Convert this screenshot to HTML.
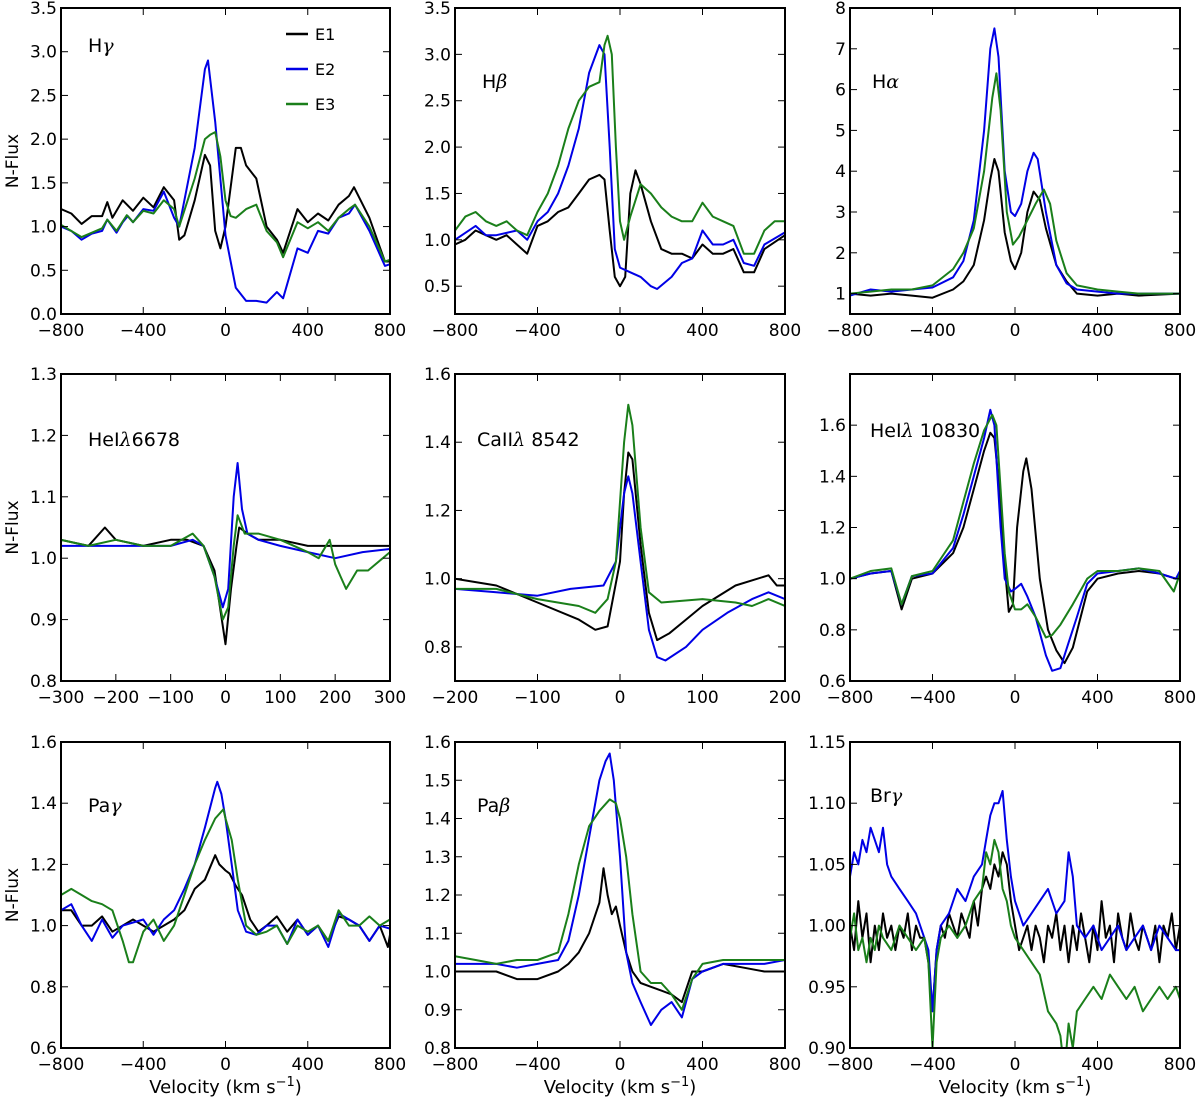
<!DOCTYPE html>
<html><head><meta charset="utf-8">
<style>
html,body{margin:0;padding:0;background:#fff;}
svg{display:block;font-family:"DejaVu Sans","Liberation Sans",sans-serif;}
</style></head>
<body>
<svg id="fig" width="1200" height="1106" viewBox="0 0 1200 1106" xmlns="http://www.w3.org/2000/svg"></svg>
<script>
// ---- data: [velocity, normalized flux] ----
const hgE1=[[-800,1.2],[-750,1.15],[-700,1.03],[-650,1.12],[-600,1.12],[-575,1.28],[-550,1.1],[-500,1.3],[-450,1.18],[-400,1.33],[-350,1.22],[-300,1.45],[-250,1.3],[-225,0.85],[-200,0.9],[-150,1.3],[-100,1.82],[-75,1.7],[-50,0.95],[-25,0.75],[0,1.0],[50,1.9],[75,1.9],[100,1.7],[150,1.55],[200,1.0],[250,0.85],[280,0.7],[350,1.2],[400,1.05],[450,1.15],[500,1.07],[550,1.25],[600,1.35],[625,1.45],[700,1.1],[775,0.6],[800,0.6]];
const hgE2=[[-800,1.0],[-750,0.95],[-700,0.85],[-650,0.92],[-600,0.95],[-575,1.08],[-530,0.93],[-500,1.05],[-475,1.12],[-450,1.05],[-400,1.2],[-350,1.18],[-300,1.4],[-250,1.1],[-225,1.0],[-150,1.9],[-100,2.8],[-85,2.9],[-50,2.2],[0,0.9],[50,0.3],[100,0.15],[150,0.15],[200,0.13],[250,0.25],[280,0.18],[350,0.75],[400,0.7],[450,0.95],[500,0.92],[550,1.1],[600,1.15],[630,1.25],[700,0.95],[775,0.55],[800,0.57]];
const hgE3=[[-800,1.02],[-700,0.88],[-600,0.98],[-575,1.08],[-530,0.95],[-480,1.13],[-450,1.05],[-400,1.18],[-350,1.15],[-300,1.3],[-250,1.2],[-225,1.0],[-150,1.55],[-100,2.0],[-75,2.05],[-50,2.08],[-25,1.8],[0,1.3],[25,1.12],[50,1.1],[100,1.2],[150,1.25],[200,0.95],[250,0.82],[280,0.65],[350,1.05],[400,0.98],[450,1.05],[500,0.95],[550,1.1],[600,1.2],[630,1.25],[700,1.0],[775,0.6],[800,0.62]];

const hbE1=[[-800,0.95],[-750,1.0],[-700,1.1],[-650,1.05],[-600,1.0],[-550,1.05],[-500,0.95],[-450,0.85],[-400,1.15],[-350,1.2],[-300,1.3],[-250,1.35],[-200,1.5],[-150,1.65],[-100,1.7],[-75,1.65],[-50,1.1],[-25,0.6],[0,0.5],[25,0.6],[50,1.5],[75,1.75],[100,1.6],[150,1.2],[200,0.9],[250,0.85],[300,0.85],[350,0.8],[400,0.95],[450,0.85],[500,0.85],[550,0.9],[600,0.65],[650,0.65],[700,0.9],[800,1.05]];
const hbE2=[[-800,1.0],[-700,1.15],[-650,1.05],[-600,1.05],[-500,1.1],[-450,1.0],[-400,1.2],[-350,1.3],[-300,1.5],[-250,1.8],[-200,2.2],[-150,2.8],[-100,3.1],[-75,3.0],[-50,2.0],[-25,0.9],[0,0.7],[50,0.65],[100,0.6],[150,0.5],[180,0.47],[250,0.6],[300,0.75],[350,0.8],[400,1.1],[450,0.95],[500,0.95],[550,1.0],[600,0.75],[650,0.72],[700,0.95],[800,1.08]];
const hbE3=[[-800,1.1],[-750,1.25],[-700,1.3],[-650,1.2],[-600,1.15],[-550,1.2],[-500,1.1],[-450,1.05],[-400,1.3],[-350,1.5],[-300,1.8],[-250,2.2],[-200,2.5],[-150,2.65],[-100,2.7],[-75,3.1],[-60,3.2],[-40,3.0],[-20,2.0],[0,1.2],[20,1.0],[50,1.25],[100,1.6],[150,1.5],[200,1.35],[250,1.25],[300,1.2],[350,1.2],[400,1.4],[450,1.25],[500,1.2],[550,1.15],[600,0.85],[650,0.85],[700,1.1],[750,1.2],[800,1.2]];

const haE1=[[-800,1.0],[-700,0.95],[-600,1.0],[-500,0.95],[-400,0.9],[-300,1.1],[-250,1.3],[-200,1.7],[-150,2.8],[-120,3.8],[-100,4.3],[-80,4.0],[-50,2.5],[-20,1.8],[0,1.6],[30,2.0],[60,3.0],[90,3.5],[120,3.3],[150,2.6],[200,1.7],[250,1.3],[300,1.0],[400,0.95],[500,1.0],[600,0.95],[800,1.0]];
const haE2=[[-800,0.95],[-700,1.1],[-600,1.05],[-500,1.1],[-400,1.15],[-300,1.4],[-250,1.8],[-200,2.8],[-150,5.0],[-120,7.0],[-100,7.5],[-80,6.8],[-50,4.0],[-20,3.0],[0,2.9],[30,3.2],[60,4.0],[90,4.45],[110,4.3],[150,3.0],[200,1.7],[250,1.25],[300,1.1],[400,1.05],[500,1.0],[600,1.0],[800,1.0]];
const haE3=[[-800,1.0],[-700,1.05],[-600,1.1],[-500,1.1],[-400,1.2],[-300,1.6],[-250,2.0],[-200,2.6],[-150,4.0],[-110,5.8],[-90,6.4],[-70,5.5],[-40,3.0],[-10,2.2],[20,2.4],[60,2.8],[100,3.2],[140,3.55],[170,3.2],[200,2.3],[250,1.5],[300,1.2],[400,1.1],[500,1.05],[600,1.0],[800,1.0]];

const he6E1=[[-300,1.03],[-250,1.02],[-220,1.05],[-200,1.03],[-150,1.02],[-100,1.03],[-70,1.03],[-40,1.02],[-20,0.98],[-10,0.92],[0,0.86],[10,0.95],[20,1.02],[25,1.05],[40,1.04],[60,1.03],[100,1.03],[150,1.02],[200,1.02],[250,1.02],[300,1.02]];
const he6E2=[[-300,1.02],[-200,1.02],[-150,1.02],[-100,1.02],[-60,1.03],[-40,1.02],[-20,0.97],[-5,0.92],[5,0.95],[15,1.1],[22,1.155],[30,1.08],[40,1.04],[60,1.03],[100,1.02],[150,1.01],[200,1.0],[250,1.01],[300,1.015]];
const he6E3=[[-300,1.03],[-250,1.02],[-200,1.03],[-150,1.02],[-100,1.02],[-60,1.04],[-40,1.02],[-20,0.97],[-5,0.9],[5,0.92],[15,1.02],[22,1.07],[35,1.04],[60,1.04],[100,1.03],[150,1.01],[170,1.0],[190,1.03],[200,0.99],[210,0.97],[220,0.95],[240,0.98],[260,0.98],[300,1.01]];

const caE1=[[-200,1.0],[-150,0.98],[-100,0.93],[-50,0.88],[-30,0.85],[-15,0.86],[0,1.05],[5,1.25],[10,1.37],[15,1.35],[25,1.1],[35,0.9],[45,0.82],[60,0.84],[80,0.88],[100,0.92],[140,0.98],[180,1.01],[190,0.98],[200,0.98]];
const caE2=[[-200,0.97],[-150,0.96],[-100,0.95],[-60,0.97],[-20,0.98],[-5,1.05],[5,1.25],[10,1.3],[15,1.25],[25,1.05],[35,0.85],[45,0.77],[55,0.76],[80,0.8],[100,0.85],[130,0.9],[160,0.94],[180,0.96],[200,0.94]];
const caE3=[[-200,0.97],[-150,0.97],[-100,0.94],[-50,0.92],[-30,0.9],[-15,0.94],[-5,1.05],[5,1.4],[10,1.51],[15,1.45],[25,1.15],[35,0.96],[50,0.93],[100,0.94],[140,0.93],[160,0.92],[180,0.94],[200,0.92]];

const he10E1=[[-800,1.0],[-700,1.02],[-600,1.03],[-550,0.88],[-500,1.0],[-400,1.02],[-300,1.1],[-250,1.2],[-200,1.35],[-150,1.5],[-120,1.57],[-100,1.55],[-70,1.3],[-50,1.05],[-30,0.87],[-10,0.9],[10,1.2],[40,1.42],[55,1.47],[80,1.35],[120,1.0],[160,0.8],[200,0.72],[240,0.67],[280,0.73],[350,0.95],[400,1.0],[500,1.02],[600,1.03],[700,1.02],[780,1.0],[800,1.02]];
const he10E2=[[-800,1.0],[-700,1.02],[-600,1.03],[-550,0.9],[-500,1.01],[-400,1.02],[-300,1.12],[-250,1.25],[-200,1.4],[-150,1.55],[-120,1.66],[-100,1.6],[-70,1.2],[-50,1.0],[-20,0.95],[0,0.96],[30,0.98],[60,0.93],[100,0.85],[150,0.7],[180,0.64],[220,0.65],[260,0.75],[300,0.85],[350,0.98],[400,1.02],[500,1.03],[600,1.04],[700,1.02],[780,1.0],[800,1.03]];
const he10E3=[[-800,1.0],[-700,1.03],[-600,1.04],[-550,0.9],[-500,1.01],[-400,1.03],[-300,1.15],[-250,1.3],[-200,1.45],[-150,1.58],[-110,1.64],[-90,1.6],[-70,1.35],[-50,1.1],[-30,0.95],[0,0.88],[30,0.88],[60,0.9],[100,0.85],[150,0.77],[180,0.78],[220,0.82],[280,0.9],[350,1.0],[400,1.03],[500,1.03],[600,1.04],[700,1.03],[770,0.95],[800,1.02]];

const pgE1=[[-800,1.05],[-750,1.05],[-700,1.0],[-650,1.0],[-600,1.03],[-550,0.98],[-500,1.0],[-450,1.02],[-400,1.0],[-350,0.98],[-300,1.0],[-250,1.02],[-200,1.05],[-150,1.12],[-100,1.15],[-50,1.23],[-30,1.2],[0,1.18],[20,1.17],[50,1.13],[80,1.1],[120,1.02],[160,0.98],[200,1.0],[250,1.03],[300,0.98],[350,1.02],[400,0.97],[450,1.0],[500,0.95],[550,1.03],[600,1.02],[650,1.0],[700,0.95],[750,1.0],[790,0.93],[800,0.97]];
const pgE2=[[-800,1.05],[-750,1.07],[-700,1.0],[-650,0.95],[-600,1.02],[-550,0.96],[-500,1.0],[-400,1.02],[-350,0.97],[-300,1.02],[-250,1.05],[-200,1.12],[-150,1.2],[-100,1.32],[-50,1.45],[-40,1.47],[-20,1.43],[0,1.35],[30,1.2],[60,1.05],[100,0.98],[150,0.97],[200,1.0],[250,1.0],[300,0.94],[350,1.02],[400,0.97],[450,1.0],[500,0.93],[550,1.04],[600,1.02],[650,1.0],[700,0.95],[750,1.0],[800,0.99]];
const pgE3=[[-800,1.1],[-750,1.12],[-700,1.1],[-650,1.08],[-600,1.07],[-550,1.05],[-500,0.95],[-470,0.88],[-450,0.88],[-400,0.98],[-350,1.02],[-300,0.95],[-250,1.0],[-200,1.1],[-150,1.2],[-100,1.28],[-50,1.35],[-10,1.38],[0,1.35],[30,1.28],[60,1.15],[100,1.0],[150,0.97],[200,0.98],[250,1.0],[300,0.94],[350,1.0],[400,0.98],[450,1.0],[500,0.95],[550,1.05],[600,1.0],[650,1.0],[700,1.03],[750,1.0],[800,1.02]];

const pbE1=[[-800,1.0],[-700,1.0],[-600,1.0],[-500,0.98],[-400,0.98],[-300,1.0],[-250,1.02],[-200,1.05],[-150,1.1],[-100,1.18],[-80,1.27],[-60,1.2],[-40,1.15],[-20,1.17],[0,1.12],[30,1.05],[60,1.0],[100,0.97],[150,0.96],[200,0.95],[250,0.94],[300,0.92],[350,1.0],[400,1.0],[500,1.02],[600,1.01],[700,1.0],[800,1.0]];
const pbE2=[[-800,1.02],[-700,1.02],[-600,1.02],[-500,1.01],[-400,1.02],[-300,1.03],[-250,1.08],[-200,1.2],[-150,1.35],[-100,1.5],[-70,1.55],[-50,1.57],[-30,1.5],[0,1.3],[30,1.05],[60,0.97],[100,0.92],[150,0.86],[200,0.9],[250,0.92],[300,0.88],[350,0.98],[400,1.0],[500,1.02],[600,1.02],[700,1.02],[800,1.03]];
const pbE3=[[-800,1.04],[-700,1.03],[-600,1.02],[-500,1.03],[-400,1.03],[-300,1.05],[-250,1.15],[-200,1.28],[-150,1.38],[-100,1.42],[-50,1.45],[-20,1.44],[0,1.4],[30,1.3],[60,1.15],[100,1.0],[150,0.97],[200,0.97],[250,0.94],[300,0.9],[350,0.98],[400,1.02],[500,1.03],[600,1.03],[700,1.03],[800,1.03]];

const brE1=[[-800,1.0],[-780,0.98],[-760,1.02],[-740,0.99],[-720,1.01],[-700,0.97],[-680,1.0],[-660,0.98],[-640,1.01],[-620,0.99],[-600,1.0],[-580,0.98],[-560,1.0],[-540,0.99],[-520,1.01],[-500,0.98],[-480,1.0],[-460,0.99],[-440,0.99],[-420,0.97],[-400,0.93],[-380,0.98],[-360,1.0],[-340,0.99],[-320,1.01],[-300,1.0],[-280,0.99],[-260,1.01],[-240,1.0],[-220,0.99],[-200,1.02],[-180,1.0],[-160,1.03],[-140,1.04],[-120,1.03],[-100,1.05],[-80,1.04],[-60,1.06],[-40,1.05],[-20,1.02],[0,1.0],[20,0.98],[40,0.99],[60,1.0],[80,0.98],[100,1.0],[120,0.99],[140,0.97],[160,1.0],[180,0.99],[200,1.01],[220,0.98],[240,1.0],[260,0.97],[280,1.0],[300,0.98],[320,1.01],[340,0.99],[360,0.97],[380,1.0],[400,0.98],[420,1.02],[440,0.99],[460,1.0],[480,0.97],[500,1.01],[520,0.99],[540,0.98],[560,1.01],[580,0.99],[600,0.98],[620,1.0],[640,0.99],[660,0.98],[680,1.0],[700,0.97],[720,1.0],[740,0.99],[760,1.01],[780,0.98],[800,1.0]];
const brE2=[[-800,1.04],[-780,1.06],[-760,1.05],[-740,1.07],[-720,1.06],[-700,1.08],[-680,1.07],[-660,1.06],[-640,1.08],[-620,1.05],[-600,1.04],[-560,1.03],[-520,1.02],[-480,1.01],[-440,0.99],[-420,0.98],[-400,0.93],[-380,0.98],[-360,1.0],[-320,1.01],[-280,1.03],[-240,1.02],[-200,1.04],[-160,1.05],[-140,1.07],[-120,1.09],[-100,1.1],[-80,1.1],[-60,1.11],[-40,1.07],[-20,1.04],[0,1.02],[40,1.0],[80,1.01],[120,1.02],[160,1.03],[200,1.01],[240,1.02],[260,1.06],[280,1.04],[300,1.0],[340,0.99],[380,1.0],[420,0.98],[460,0.99],[500,1.0],[540,0.98],[580,0.99],[620,1.0],[660,0.98],[700,1.0],[740,0.99],[780,0.98],[800,0.98]];
const brE3=[[-800,0.99],[-780,1.01],[-760,0.98],[-740,0.99],[-720,0.97],[-700,0.99],[-680,0.98],[-660,1.0],[-640,0.99],[-600,0.98],[-560,1.0],[-520,0.99],[-480,0.98],[-440,0.99],[-420,0.97],[-400,0.9],[-380,0.97],[-360,0.99],[-320,1.0],[-280,0.99],[-240,1.0],[-200,1.02],[-160,1.03],[-140,1.06],[-120,1.05],[-100,1.07],[-80,1.06],[-60,1.03],[-40,1.02],[-20,1.0],[0,0.99],[40,0.98],[80,0.97],[120,0.96],[160,0.93],[200,0.92],[220,0.91],[240,0.88],[260,0.92],[280,0.9],[300,0.93],[340,0.94],[380,0.95],[420,0.94],[460,0.96],[500,0.95],[540,0.94],[580,0.95],[620,0.93],[660,0.94],[700,0.95],[740,0.94],[780,0.95],[800,0.94]];

const xTicks800=[-800,-400,0,400,800];
const xTicks300=[-300,-200,-100,0,100,200,300];
const xTicks200=[-200,-100,0,100,200];
const yTicksHg=[0,0.5,1,1.5,2,2.5,3,3.5];
const yTicksHb=[0.5,1,1.5,2,2.5,3,3.5];
const yTicksHa=[1,2,3,4,5,6,7,8];
const yTicksHe6=[0.8,0.9,1.0,1.1,1.2,1.3];
const yTicksCa=[0.8,1.0,1.2,1.4,1.6];
const yTicksHe10=[0.6,0.8,1.0,1.2,1.4,1.6];
const yTicksPg=[0.6,0.8,1.0,1.2,1.4,1.6];
const yTicksPb=[0.8,0.9,1.0,1.1,1.2,1.3,1.4,1.5,1.6];
const yTicksBr=[0.90,0.95,1.00,1.05,1.10,1.15];
const seriesNames=["E1","E2","E3"];
const seriesColors=["#000000","#0000e6","#1a7f1a"];

const NS="http://www.w3.org/2000/svg";
const svg=document.getElementById('fig');
function mk(tag,attrs,parent){const e=document.createElementNS(NS,tag);for(const k in attrs)e.setAttribute(k,attrs[k]);(parent||svg).appendChild(e);return e;}
function fmt(v,d){let s=v.toFixed(d);return s.replace('-','\u2212');}

const cols=[[61,390],[455,785],[850,1180]];
const rows=[[8,314],[374,681],[742,1048]];
const panels=[
 {key:'h-gamma',title:['H','γ'],tx:88,ty:52,col:0,row:0,xl:[-800,800],yl:[0,3.5],xt:xTicks800,yt:yTicksHg,yd:1,data:[hgE1,hgE2,hgE3]},
 {key:'h-beta',title:['H','β'],tx:482,ty:88,col:1,row:0,xl:[-800,800],yl:[0.2,3.5],xt:xTicks800,yt:yTicksHb,yd:1,data:[hbE1,hbE2,hbE3]},
 {key:'h-alpha',title:['H','α'],tx:872,ty:88,col:2,row:0,xl:[-800,800],yl:[0.5,8],xt:xTicks800,yt:yTicksHa,yd:0,data:[haE1,haE2,haE3]},
 {key:'hei-6678',title:['HeI','λ','6678'],tx:88,ty:446,col:0,row:1,xl:[-300,300],yl:[0.8,1.3],xt:xTicks300,yt:yTicksHe6,yd:1,data:[he6E1,he6E2,he6E3]},
 {key:'caii-8542',title:['CaII','λ',' 8542'],tx:477,ty:446,col:1,row:1,xl:[-200,200],yl:[0.7,1.6],xt:xTicks200,yt:yTicksCa,yd:1,data:[caE1,caE2,caE3]},
 {key:'hei-10830',title:['HeI','λ',' 10830'],tx:870,ty:437,col:2,row:1,xl:[-800,800],yl:[0.6,1.8],xt:xTicks800,yt:yTicksHe10,yd:1,data:[he10E1,he10E2,he10E3]},
 {key:'pa-gamma',title:['Pa','γ'],tx:88,ty:812,col:0,row:2,xl:[-800,800],yl:[0.6,1.6],xt:xTicks800,yt:yTicksPg,yd:1,data:[pgE1,pgE2,pgE3]},
 {key:'pa-beta',title:['Pa','β'],tx:477,ty:812,col:1,row:2,xl:[-800,800],yl:[0.8,1.6],xt:xTicks800,yt:yTicksPb,yd:1,data:[pbE1,pbE2,pbE3]},
 {key:'br-gamma',title:['Br','γ'],tx:870,ty:802,col:2,row:2,xl:[-800,800],yl:[0.9,1.15],xt:xTicks800,yt:yTicksBr,yd:2,data:[brE1,brE2,brE3]}
];

panels.forEach(p=>{
  const [x0,x1]=cols[p.col],[y0,y1]=rows[p.row];
  const sx=v=>x0+(v-p.xl[0])/(p.xl[1]-p.xl[0])*(x1-x0);
  const sy=v=>y1-(v-p.yl[0])/(p.yl[1]-p.yl[0])*(y1-y0);
  const g=mk('g',{});
  
  
  const cid='clip-'+p.key;
  const cp=mk('clipPath',{id:cid},g);mk('rect',{x:x0,y:y0,width:x1-x0,height:y1-y0},cp);
  p.data.forEach((d,i)=>{
    const pl=mk('polyline',{points:d.map(q=>sx(q[0]).toFixed(1)+','+sy(q[1]).toFixed(1)).join(' '),fill:'none',stroke:seriesColors[i],'stroke-width':2,'stroke-linejoin':'round','clip-path':'url(#'+cid+')'},g);
    
    
  });
  const fr=mk('rect',{x:x0,y:y0,width:x1-x0,height:y1-y0,fill:'none',stroke:'#000','stroke-width':2},g);
  
  
  p.xt.forEach(v=>{
    const X=sx(v);
    mk('line',{x1:X,y1:y1,x2:X,y2:y1-7,stroke:'#000','stroke-width':1},g);
    mk('line',{x1:X,y1:y0,x2:X,y2:y0+7,stroke:'#000','stroke-width':1},g);
    const t=mk('text',{x:X,y:y1+22,'font-size':17,'text-anchor':'middle'},g);
    t.textContent=fmt(v,0);
    
    
  });
  p.yt.forEach(v=>{
    const Y=sy(v);
    mk('line',{x1:x0,y1:Y,x2:x0+7,y2:Y,stroke:'#000','stroke-width':1},g);
    mk('line',{x1:x1,y1:Y,x2:x1-7,y2:Y,stroke:'#000','stroke-width':1},g);
    const t=mk('text',{x:x0-4,y:Y+6,'font-size':17,'text-anchor':'end'},g);
    t.textContent=fmt(v,p.yd);
    
    
  });
  const tt=mk('text',{x:p.tx,y:p.ty,'font-size':19},g);
  
  
  const a=mk('tspan',{},tt);a.textContent=p.title[0];
  const b=mk('tspan',{'font-style':'italic','font-family':'"DejaVu Serif","Liberation Serif",serif'},tt);b.textContent=p.title[1];
  if(p.title[2]){const c=mk('tspan',{},tt);c.textContent=p.title[2];}
});

// legend
const lg=mk('g',{});


seriesNames.forEach((n,i)=>{
  const y=34+i*35;
  const l=mk('line',{x1:286,y1:y,x2:308,y2:y,stroke:seriesColors[i],'stroke-width':2.5},lg);
  
  
  const t=mk('text',{x:315,y:y+6,'font-size':16},lg);
  t.textContent=n;
  
  
});

// axis titles
rows.forEach((r,i)=>{
  const cy=(r[0]+r[1])/2;
  const t=mk('text',{x:18,y:cy,'font-size':17,'text-anchor':'middle',transform:'rotate(-90 18 '+cy+')'});
  t.textContent='N-Flux';
  
  
});
cols.forEach(c=>{
  const cx=(c[0]+c[1])/2;
  const t=mk('text',{x:cx,y:1093,'font-size':18,'text-anchor':'middle'});
  
  
  t.appendChild(document.createTextNode('Velocity (km s'));
  const s=mk('tspan',{dy:-7,'font-size':13},t);s.textContent='\u22121';
  const e=mk('tspan',{dy:7},t);e.textContent=')';
});
</script>
</body></html>
